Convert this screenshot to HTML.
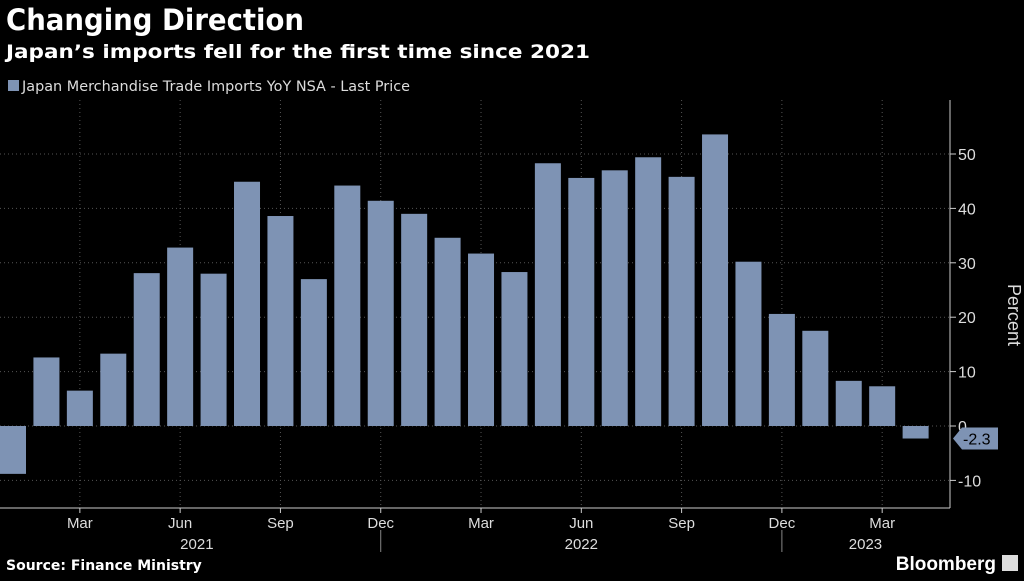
<!DOCTYPE html>
<html><head><meta charset="utf-8"><style>
body{margin:0;width:1024px;height:576px;background:#000;overflow:hidden;font-family:"Liberation Sans",sans-serif;color:#fff}
</style></head><body>
<svg width="1024" height="576" xmlns="http://www.w3.org/2000/svg">
<text x="6" y="30" font-size="29" font-weight="bold" fill="#fff" font-family="DejaVu Sans, sans-serif" textLength="298" lengthAdjust="spacingAndGlyphs">Changing Direction</text>
<text x="6" y="58" font-size="19" font-weight="bold" fill="#fff" font-family="DejaVu Sans, sans-serif" textLength="584" lengthAdjust="spacingAndGlyphs">Japan’s imports fell for the first time since 2021</text>
<rect x="8" y="80" width="11" height="11" fill="#7e93b4"/>
<text x="22" y="91" font-size="14" fill="#ddd" font-family="DejaVu Sans, sans-serif" textLength="388" lengthAdjust="spacingAndGlyphs">Japan Merchandise Trade Imports YoY NSA - Last Price</text>
<g id="grid"></g><g id="bars"></g><g id="axes"></g>
<text x="1018" y="305" font-size="18" fill="#ddd" transform="rotate(90 1008 305)" text-anchor="middle">Percent</text>
<text x="6" y="570" font-size="14" font-weight="bold" fill="#fff" font-family="DejaVu Sans, sans-serif">Source: Finance Ministry</text>
<text x="996" y="570" font-size="19" font-weight="bold" fill="#fff" text-anchor="end">Bloomberg</text>
<rect x="1002" y="555" width="16" height="16" fill="#ddd"/>
</svg>
<script>
const months=["Jan","Feb","Mar","Apr","May","Jun","Jul","Aug","Sep","Oct","Nov","Dec","Jan","Feb","Mar","Apr","May","Jun","Jul","Aug","Sep","Oct","Nov","Dec","Jan","Feb","Mar","Apr"];
const values=[-8.8,12.6,6.5,13.3,28.1,32.8,28.0,44.9,38.6,27.0,44.2,41.4,39.0,34.6,31.7,28.3,48.3,45.6,47.0,49.4,45.8,53.6,30.2,20.6,17.5,8.3,7.3,-2.3];
const yTicks=[-10,0,10,20,30,40,50];
const years=[{label:"2021",i:5.5},{label:"2022",i:17},{label:"2023",i:25.5}];
const NS="http://www.w3.org/2000/svg";
const x=i=>13+33.43*i;
const y=v=>426-v*5.44;
function mk(t,a,p){const e=document.createElementNS(NS,t);for(const k in a)e.setAttribute(k,a[k]);document.getElementById(p).appendChild(e);return e;}
const AX=950,BOT=508;
yTicks.forEach(v=>{
 const g=mk('line',{x1:0,x2:AX,y1:y(v),y2:y(v),stroke:'#555','stroke-dasharray':'1,3'},'grid');
 
 
 mk('line',{x1:AX,x2:AX+6,y1:y(v),y2:y(v),stroke:'#ccc'},'axes');
 const t=mk('text',{x:AX+8,y:y(v)+6,'font-size':16,fill:'#ddd'},'axes');t.textContent=v;
 
 
});
months.forEach((m,i)=>{
 if(m=="Mar"||m=="Jun"||m=="Sep"||m=="Dec"){
  const g=mk('line',{x1:x(i),x2:x(i),y1:100,y2:BOT,stroke:'#555','stroke-dasharray':'1,3'},'grid');
  
  
  mk('line',{x1:x(i),x2:x(i),y1:BOT,y2:BOT+5,stroke:'#ccc'},'axes');
  const t=mk('text',{x:x(i),y:528,'font-size':15,fill:'#ddd','text-anchor':'middle'},'axes');t.textContent=m;
  
  
 }
 const v=values[i];
 const b=mk('rect',{x:x(i)-13,y:Math.min(y(v),y(0)),width:26,height:Math.abs(y(v)-y(0)),fill:'#7e93b4'},'bars');
 
 
});
[11,23].forEach(i=>{mk('line',{x1:x(i),x2:x(i),y1:530,y2:552,stroke:'#888'},'axes');});
years.forEach(o=>{const t=mk('text',{x:x(o.i),y:549,'font-size':15,fill:'#ddd','text-anchor':'middle'},'axes');t.textContent=o.label;
 
 });
mk('line',{x1:AX,x2:AX,y1:100,y2:BOT,stroke:'#ccc'},'axes');
mk('line',{x1:0,x2:AX,y1:BOT,y2:BOT,stroke:'#ccc'},'axes');
const last=values[values.length-1],ly=y(last);
const p=mk('path',{d:`M${AX+3} ${ly} L${AX+12} ${ly-11} H${AX+48} V${ly+11} H${AX+12} Z`,fill:'#7e93b4'},'axes');


const lt=mk('text',{x:AX+13,y:ly+6,'font-size':16,fill:'#000'},'axes');lt.textContent=last;


</script>
</body></html>
